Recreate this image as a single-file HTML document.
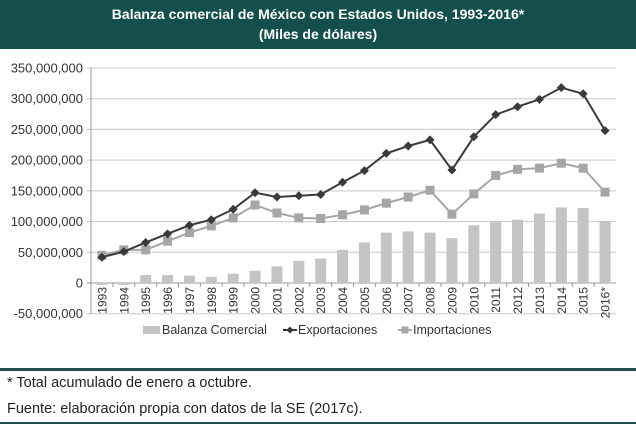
<!DOCTYPE html>
<html><head><meta charset="utf-8">
<style>
body{margin:0;width:636px;height:425px;background:#fff;overflow:hidden;font-family:"Liberation Sans",sans-serif;position:relative}
#hdr{position:absolute;left:0;top:0;width:636px;height:49px;background:#13504d;color:#fff;text-align:center;font-weight:bold;font-size:14px;line-height:20px;padding-top:4px;box-sizing:border-box}
.rule{position:absolute;left:0;width:636px;background:#1f4f4b}
.note{position:absolute;left:7px;font-size:14.5px;color:#222}
svg{position:absolute;left:0;top:0}
</style></head><body>
<div id="hdr">Balanza comercial de México con Estados Unidos, 1993-2016*<br>(Miles de dólares)</div>
<svg id="chart" width="636" height="425"></svg>
<div class="rule" style="top:368px;height:3px"></div>
<div class="note" style="top:375px">* Total acumulado de enero a octubre.</div>
<div class="note" style="top:401px">Fuente: elaboración propia con datos de la SE (2017c).</div>
<div class="rule" style="top:422px;height:2px"></div>
<script>
const years=["1993","1994","1995","1996","1997","1998","1999","2000","2001","2002","2003","2004","2005","2006","2007","2008","2009","2010","2011","2012","2013","2014","2015","2016*"];
const exportaciones=[42,51,66,80,94,103,120,147,140,142,144,164,183,211,223,233,184,238,274,287,299,318,308,248];
const importaciones=[45,54,54,68,82,93,106,127,114,106,105,111,119,130,140,151,112,145,175,185,187,195,187,148];
const balanza=[-3,-3,13,13,12,10,15,20,27,36,40,54,66,82,84,82,73,94,101,103,113,123,122,101];
const yTicks=[-50,0,50,100,150,200,250,300,350];
const yTickLabels=["-50,000,000","0","50,000,000","100,000,000","150,000,000","200,000,000","250,000,000","300,000,000","350,000,000"];
const svg=document.getElementById('chart');const NS="http://www.w3.org/2000/svg";
const x0=91,x1=616,step=(x1-x0)/years.length;
const xc=i=>x0+step*(i+0.5);
const y=v=>283-v*(215/350);
function mk(t,a,p){const e=document.createElementNS(NS,t);for(const k in a)e.setAttribute(k,a[k]);(p||svg).appendChild(e);return e;}
yTicks.forEach((t,i)=>{
  const l=mk('line',{x1:x0-4,x2:x1,y1:y(t),y2:y(t),stroke:t===0?'#999':'#c8c8c8','stroke-width':1});
  
  
  const tx=mk('text',{x:x0-8,y:y(t)+4.5,'text-anchor':'end','font-size':13,fill:'#333'});tx.textContent=yTickLabels[i];
  
  
});
mk('line',{x1:x0,x2:x0,y1:y(350),y2:y(-50),stroke:'#999'});
balanza.forEach((v,i)=>{
  const top=Math.min(y(v),y(0)),h=Math.abs(y(v)-y(0));
  const r=mk('rect',{x:xc(i)-5.5,y:top,width:11,height:h,fill:'#c4c4c4'});
  
  
});
years.forEach((yr,i)=>{
  mk('line',{x1:x0+step*i,x2:x0+step*i,y1:283,y2:287,stroke:'#999'});
  const t=mk('text',{x:0,y:0,'font-size':12,fill:'#333','text-anchor':'end',transform:`translate(${xc(i)+4.5},${287}) rotate(-90)`});
  t.textContent=yr;
  
  
});
function series(vals,color,marker,name){
  const pl=mk('polyline',{points:vals.map((v,i)=>xc(i)+','+y(v)).join(' '),fill:'none',stroke:color,'stroke-width':2});
  
  
  vals.forEach((v,i)=>{
    let m;
    if(marker==='d')m=mk('polygon',{points:`${xc(i)},${y(v)-4.5} ${xc(i)+4.5},${y(v)} ${xc(i)},${y(v)+4.5} ${xc(i)-4.5},${y(v)}`,fill:color});
    else m=mk('rect',{x:xc(i)-4.5,y:y(v)-4.5,width:9,height:9,fill:color});
    
    
  });
}
series(importaciones,'#a6a6a6','s','importaciones');
series(exportaciones,'#3a3a3a','d','exportaciones');
const lg=mk('g',{});
mk('rect',{x:143,y:326,width:17,height:8,fill:'#c4c4c4'},lg);
let t=mk('text',{x:162,y:334,'font-size':12.5,fill:'#333'},lg);t.textContent='Balanza Comercial';
mk('line',{x1:283,x2:297,y1:330,y2:330,stroke:'#3a3a3a','stroke-width':2},lg);
mk('polygon',{points:'290,326.5 293.5,330 290,333.5 286.5,330',fill:'#3a3a3a'},lg);
t=mk('text',{x:298,y:334,'font-size':12.5,fill:'#333'},lg);t.textContent='Exportaciones';
mk('line',{x1:398,x2:412,y1:330,y2:330,stroke:'#a6a6a6','stroke-width':2},lg);
mk('rect',{x:401.5,y:326.5,width:7,height:7,fill:'#a6a6a6'},lg);
t=mk('text',{x:413,y:334,'font-size':12.5,fill:'#333'},lg);t.textContent='Importaciones';
</script>
</body></html>
